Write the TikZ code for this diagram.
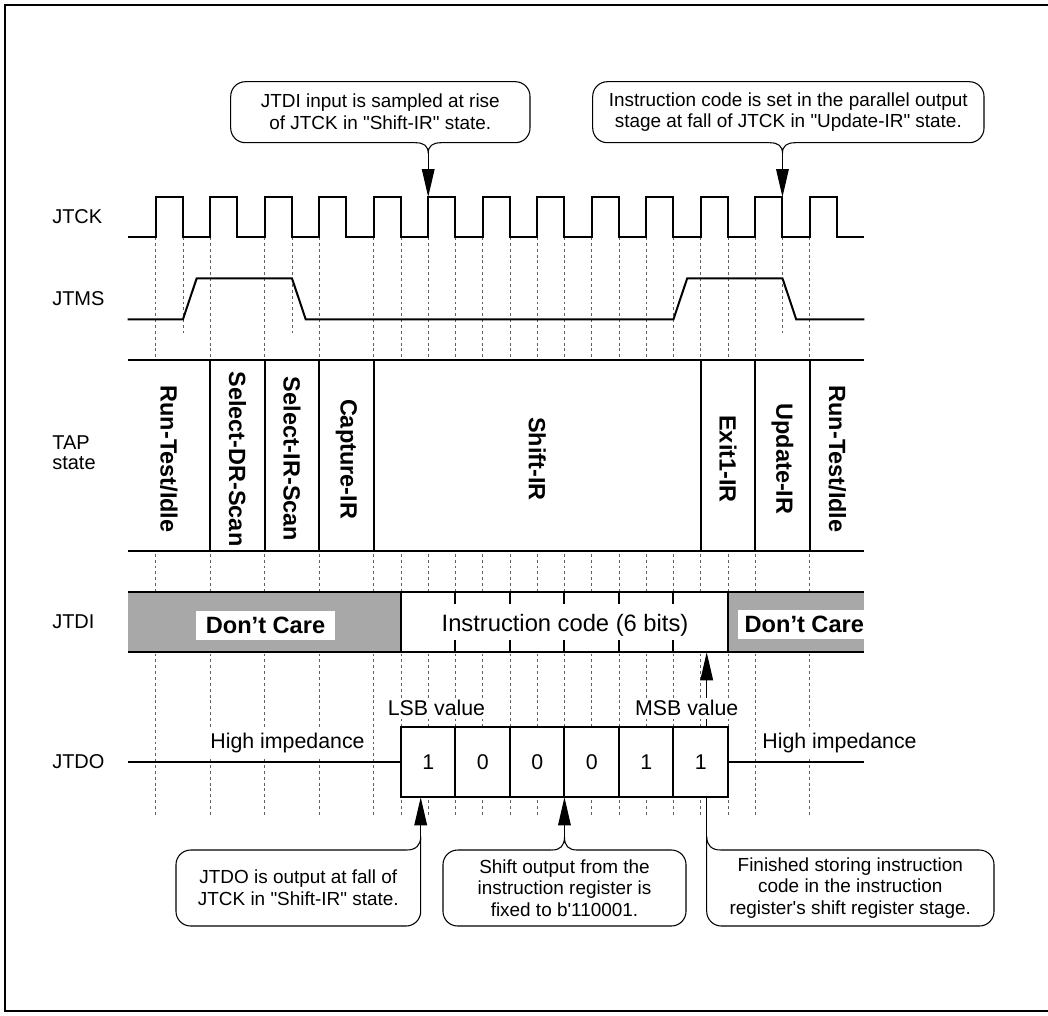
\documentclass[tikz,border=0pt]{standalone}
\usepackage{fontspec}
\setmainfont{Liberation Sans}[Ligatures=TeXOff]
\usetikzlibrary{arrows.meta}
\definecolor{dcgray}{RGB}{168,168,168}
\definecolor{gridgray}{RGB}{95,95,95}
\begin{document}
\begin{tikzpicture}[x=0.75pt,y=-0.75pt,
  wave/.style={line width=1.5pt},
  gridline/.style={draw=gridgray,line width=0.6pt,dash pattern=on 2.2pt off 2.2pt},
  sig/.style={font=\fontsize{15}{15}\selectfont,anchor=west,inner sep=0pt,align=left},
  statelbl/.style={font=\fontsize{17.6}{20}\selectfont\bfseries,rotate=-90,inner sep=0pt},
  val/.style={font=\fontsize{16}{18}\selectfont,inner sep=0pt},
  note/.style={font=\fontsize{16}{18}\selectfont,fill=white,inner sep=2pt},
  dc/.style={font=\fontsize{17.7}{20}\selectfont\bfseries,fill=white,inner xsep=0pt,inner ysep=0pt,minimum height=21.75pt},
  ctext/.style={font=\fontsize{14.2}{16.3}\selectfont,align=center,inner sep=0pt},
  callout/.style={line width=0.8pt,rounded corners=11pt},
  tailline/.style={line width=0.8pt},
  ptr/.style={line width=0.8pt,-{Triangle[length=21pt,width=9.5pt]}},
]
\useasboundingbox (0,0) rectangle (1048,1015);
% frame
\draw[line width=1.2pt] (1048,5) -- (5,5) -- (5,1011) -- (1048,1011);

% dashed timing grid
\foreach \n in {0,2,4,6,8,9,10,...,22,24}
  \draw[gridline] ({155.7+27.25*\n},237) -- ({155.7+27.25*\n},817);
\foreach \n in {1,5,23}
  \draw[gridline] ({155.7+27.25*\n},237) -- ({155.7+27.25*\n},333);

% signal labels
\node[sig] (lclk) at (52,217) {JTCK};
\node[sig] (lms) at (52,299) {JTMS};
\node[sig] (ltap) at (52,453) {TAP\\state};
\node[sig] (ldi) at (52,622) {JTDI};
\node[sig] (ldo) at (52,762) {JTDO};

% JTCK
\draw[wave] (127.7,237)
  \foreach \k in {0,...,12} { -- ({155.7+54.5*\k},237) -- ({155.7+54.5*\k},197)
     -- ({182.95+54.5*\k},197) -- ({182.95+54.5*\k},237) } -- (864.3,237);
\coordinate (e10) at (428.2,197);
\coordinate (e23) at (782.45,197);

% JTMS
\draw[wave] (127.7,319.3) -- (182.95,319.3) -- (196.7,278.3) -- (291.95,278.3)
  -- (305.7,319.3) -- (673.45,319.3) -- (687.2,278.3) -- (782.45,278.3)
  -- (796.2,319.3) -- (864.3,319.3);

% TAP state
\fill[white] (127.7,360) rectangle (864.3,550.7);
\draw[wave] (127.7,360) -- (864.3,360) (127.7,550.7) -- (864.3,550.7);
\foreach \n in {2,4,6,8,20,22,24}
  \draw[wave] ({155.7+27.25*\n},360) -- ({155.7+27.25*\n},550.7);
\node[statelbl] (s1) at (169,459) {Run-Test/Idle};
\node[statelbl] (s2) at (237.45,459) {Select-DR-Scan};
\node[statelbl] (s3) at (291.95,459) {Select-IR-Scan};
\node[statelbl] (s4) at (346.45,459) {Capture-IR};
\node[statelbl] (s5) at (537.2,459) {Shift-IR};
\node[statelbl] (s6) at (727.95,459) {Exit1-IR};
\node[statelbl] (s7) at (782.45,459) {Update-IR};
\node[statelbl] (s8) at (837.5,459) {Run-Test/Idle};

% JTDI
\fill[dcgray] (127.7,591.7) rectangle (400.95,652.3);
\fill[white] (400.95,591.7) rectangle (727.95,652.3);
\fill[dcgray] (727.95,591.7) rectangle (864.3,652.3);
\draw[wave] (127.7,591.7) -- (864.3,591.7) (127.7,652.3) -- (864.3,652.3)
  (400.95,591.7) -- (400.95,652.3) (727.95,591.7) -- (727.95,652.3);
\foreach \n in {11,13,15,17,19}
  \draw[wave] ({155.7+27.25*\n},591.7) -- ({155.7+27.25*\n},603.7)
              ({155.7+27.25*\n},640.3) -- ({155.7+27.25*\n},652.3);
\node[dc,minimum width=104pt] (dc1) at (265.5,625.5) {Don’t Care};
\node[dc,anchor=west,inner xsep=5pt] (dc2) at (737.7,624.5) {Don’t Care};
\node[font=\fontsize{17.8}{20}\selectfont,inner sep=0pt] (ic) at (565,625) {Instruction code (6 bits)};

% JTDO
\draw[wave] (127.7,762) -- (400.95,762) (727.95,762) -- (864.3,762);
\fill[white] (400.95,726.7) rectangle (727.95,797.3);
\draw[wave] (400.95,726.7) rectangle (727.95,797.3);
\foreach \n in {11,13,15,17,19}
  \draw[wave] ({155.7+27.25*\n},726.7) -- ({155.7+27.25*\n},797.3);
\node[val] (b0) at (428.2,762) {1};
\node[val] (b1) at (482.7,762) {0};
\node[val] (b2) at (537.2,762) {0};
\node[val] (b3) at (591.7,762) {0};
\node[val] (b4) at (646.2,762) {1};
\node[val] (b5) at (700.7,762) {1};
\coordinate (msbfoot) at (706.7,726.7);
\coordinate (msbtip) at (706.7,652.3);
\draw[ptr] (msbfoot) -- (msbtip);
\node[note] (hz1) at (287.5,743) {High impedance};
\node[note] (hz2) at (839.5,743) {High impedance};
\node[note] (lsb) at (436.5,708) {LSB value};
\node[note] (msb) at (686.7,708) {MSB value};

% top callout 1
\node[ctext] (t1) at (380.3,112) {JTDI input is sampled at rise\\of JTCK in "Shift-IR" state.};
\draw[callout] (415.5,142.7) -- (230.7,142.7) -- (230.7,81.7) -- (530,81.7) -- (530,142.7) -- (441,142.7);
\coordinate (t1tail) at (428.2,153.3);
\draw[tailline] (415.5,142.7) .. controls (424,142.7) and (428.2,146) .. (t1tail)
  .. controls (428.2,146) and (432.5,142.7) .. (441,142.7);
\draw[ptr] (t1tail) -- (e10);

% top callout 2
\node[ctext] (t2) at (788.3,112) {Instruction code is set in the parallel output\\stage at fall of JTCK in "Update-IR" state.};
\draw[callout] (769.7,142.7) -- (592.7,142.7) -- (592.7,81.7) -- (984,81.7) -- (984,142.7) -- (795.2,142.7);
\coordinate (t2tail) at (782.45,153.3);
\draw[tailline] (769.7,142.7) .. controls (778.2,142.7) and (782.45,146) .. (t2tail)
  .. controls (782.45,146) and (786.7,142.7) .. (795.2,142.7);
\draw[ptr] (t2tail) -- (e23);

% bottom callout 1
\node[ctext] (c1) at (298.3,888) {JTDO is output at fall of\\JTCK in "Shift-IR" state.};
\draw[callout] (406.7,850) -- (176,850) -- (176,926) -- (420.7,926) -- (420.7,836.7);
\coordinate (c1tail) at (420.7,836.7);
\coordinate (c1tip) at (420.7,797.3);
\draw[tailline] (406.7,850) .. controls (416,850) and (420.7,845) .. (c1tail);
\draw[ptr] (c1tail) -- (c1tip);

% bottom callout 2
\node[ctext] (c2) at (564.5,888) {Shift output from the\\instruction register is\\fixed to b'110001.};
\draw[callout] (551.7,850) -- (443,850) -- (443,926) -- (686,926) -- (686,850) -- (577.2,850);
\coordinate (c2tail) at (564.45,837);
\coordinate (c2tip) at (564.45,797.3);
\draw[tailline] (551.7,850) .. controls (560.2,850) and (564.45,846) .. (c2tail)
  .. controls (564.45,846) and (568.7,850) .. (577.2,850);
\draw[ptr] (c2tail) -- (c2tip);

% bottom callout 3
\node[ctext] (c3) at (850.3,888) {Finished storing instruction\\code in the instruction\\register's shift register stage.};
\draw[callout] (720.7,850) -- (994,850) -- (994,926) -- (706.7,926) -- (706.7,836.7);
\coordinate (c3tail) at (706.7,836.7);
\coordinate (c3top) at (706.7,797.3);
\draw[tailline] (720.7,850) .. controls (711.4,850) and (706.7,845) .. (c3tail);
\draw[tailline] (c3tail) -- (c3top);
\end{tikzpicture}
\end{document}
